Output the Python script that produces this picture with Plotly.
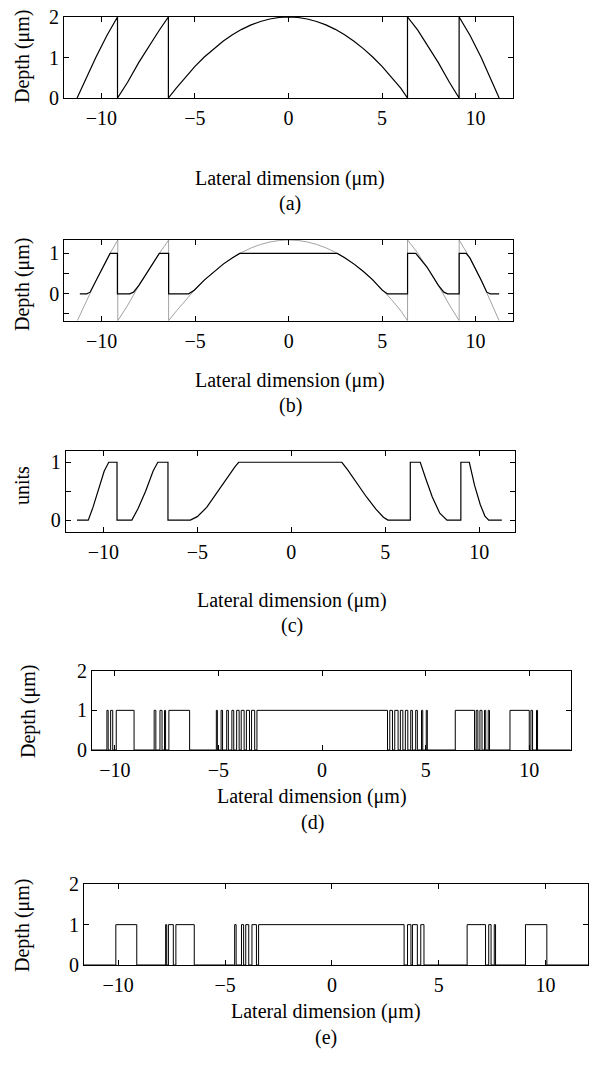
import plotly.graph_objects as go

W, H = 595, 1067
FONT = "Liberation Serif"

# ---------------- data ----------------
# (a) diffractive lens depth profile (um)
a_x = [-11.3, -10.8, -10.3, -9.7, -9.14,
       -9.14, -8.6, -8.0, -7.4, -6.9, -6.42,
       -6.42, -6.0, -5.5, -5.0, -4.5, -4.0, -3.5, -3.0, -2.5, -2.0, -1.5, -1.0, -0.5, 0.0,
       0.5, 1.0, 1.5, 2.0, 2.5, 3.0, 3.5, 4.0, 4.5, 5.0, 5.5, 6.0, 6.36,
       6.36, 6.9, 7.4, 8.0, 8.6, 9.12,
       9.12, 9.7, 10.3, 10.8, 11.26]
a_y = [0.0, 0.5, 1.0, 1.55, 2.0,
       0.0, 0.39, 0.88, 1.33, 1.68, 2.0,
       0.0, 0.243, 0.524, 0.78, 1.012, 1.219, 1.402, 1.561, 1.695, 1.805, 1.89, 1.951, 1.988, 2.0,
       1.988, 1.951, 1.89, 1.805, 1.695, 1.561, 1.402, 1.219, 1.012, 0.78, 0.524, 0.243, 0.0,
       2.0, 1.68, 1.33, 0.88, 0.39, 0.0,
       2.0, 1.55, 1.0, 0.5, 0.0]

# (b) shifted profile (grey) and clipped profile (black)
b_grey_x = a_x
b_grey_y = [-0.667, -0.167, 0.333, 0.883, 1.333,
            -0.667, -0.277, 0.213, 0.663, 1.013, 1.333,
            -0.667, -0.424, -0.143, 0.113, 0.345, 0.552, 0.735, 0.894, 1.028, 1.138, 1.223, 1.284, 1.321, 1.333,
            1.321, 1.284, 1.223, 1.138, 1.028, 0.894, 0.735, 0.552, 0.345, 0.113, -0.143, -0.424, -0.667,
            1.333, 1.013, 0.663, 0.213, -0.277, -0.667,
            1.333, 0.883, 0.333, -0.167, -0.667]
b_x = [-11.17, -10.8, -10.62, -10.3, -9.7, -9.55, -9.16, -9.16,
       -8.5, -8.3, -8.0, -7.4, -6.92, -6.42, -6.42,
       -5.35, -5.05, -4.5, -4.0, -3.5, -3.0, -2.62, 2.6, 3.0, 3.5, 4.0, 4.5, 5.0, 5.28, 6.36, 6.36,
       6.8, 7.4, 8.0, 8.3, 8.5, 9.12, 9.12,
       9.5, 9.7, 10.3, 10.6, 10.78, 11.26]
b_y = [0.0, 0.0, 0.04, 0.333, 0.883, 1.0, 1.0, 0.0,
       0.0, 0.04, 0.213, 0.663, 1.0, 1.0, 0.0,
       0.0, 0.09, 0.345, 0.552, 0.735, 0.894, 1.0, 1.0, 0.894, 0.735, 0.552, 0.345, 0.09, 0.0, 0.0, 1.0,
       1.0, 0.663, 0.213, 0.04, 0.0, 0.0, 1.0,
       1.0, 0.883, 0.333, 0.04, 0.0, 0.0]

# (c) smoothed profile (units)
c_x = [-11.4, -10.8, -10.55, -10.25, -9.95, -9.71, -9.27, -9.27,
       -8.48, -8.15, -7.75, -7.35, -7.1, -6.56, -6.56,
       -5.37, -5.0, -4.5, -4.0, -3.5, -3.0, -2.8, 2.69, 3.0, 3.5, 4.0, 4.5, 4.9, 5.14, 6.33, 6.33,
       6.86, 7.15, 7.5, 7.9, 8.28, 9.02, 9.02,
       9.47, 9.75, 10.05, 10.3, 10.5, 11.2]
c_y = [0.0, 0.0, 0.22, 0.55, 0.85, 1.0, 1.0, 0.0,
       0.0, 0.2, 0.5, 0.85, 1.0, 1.0, 0.0,
       0.0, 0.06, 0.22, 0.46, 0.7, 0.92, 1.0, 1.0, 0.87, 0.63, 0.4, 0.19, 0.05, 0.0, 0.0, 1.0,
       1.0, 0.72, 0.4, 0.12, 0.0, 0.0, 1.0,
       1.0, 0.6, 0.27, 0.07, 0.0, 0.0]

# (d) binary profile: pulse start / end positions (um), depth 1
d_start = [-10.38, -10.2, -9.93, -8.1, -7.82, -7.6, -7.39,
           -5.1, -4.87, -4.6, -4.35, -4.12, -3.9, -3.65, -3.4, -3.14,
           3.27, 3.51, 3.78, 4.02, 4.28, 4.52, 4.8, 5.03,
           6.43, 7.44, 7.62, 7.84, 8.02, 9.07, 10.08, 10.35]
d_end = [-10.32, -10.1, -9.07, -8.02, -7.72, -7.55, -6.39,
         -5.05, -4.8, -4.52, -4.26, -4.0, -3.76, -3.5, -3.25, 3.16,
         3.4, 3.67, 3.9, 4.14, 4.36, 4.6, 4.86, 5.08,
         7.36, 7.52, 7.72, 7.9, 8.08, 10.0, 10.16, 10.4]
d_limits = [-11.1, 12.0]

# (e) binary profile, second design
e_start = [-10.11, -7.78, -7.65, -7.3,
           -4.55, -4.23, -4.03, -3.74, -3.43,
           3.54, 3.77, 4.16, 6.33, 7.34, 7.6, 9.06]
e_end = [-9.13, -7.73, -7.42, -6.44,
         -4.48, -4.13, -3.89, -3.53, 3.38,
         3.7, 4.0, 4.31, 7.19, 7.45, 7.66, 10.06]
e_limits = [-11.6, 12.0]

x_ticks = [-10, -5, 0, 5, 10]
x_title = "Lateral dimension (\u03bcm)"
depth_title = "Depth (\u03bcm)"
panel_labels = ["(a)", "(b)", "(c)", "(d)", "(e)"]


def pulses_to_line(starts, ends, limits):
    xs, ys = [limits[0]], [0]
    for s, e in zip(starts, ends):
        xs += [s, s, e, e]
        ys += [0, 1, 1, 0]
    xs.append(limits[1])
    ys.append(0)
    return xs, ys


d_x, d_y = pulses_to_line(d_start, d_end, d_limits)
e_x, e_y = pulses_to_line(e_start, e_end, e_limits)

# ---------------- figure ----------------
fig = go.Figure()
line_k = dict(color="black", width=1.2)
fig.add_trace(go.Scatter(x=a_x, y=a_y, mode="lines", line=line_k, xaxis="x", yaxis="y"))
fig.add_trace(go.Scatter(x=b_grey_x, y=b_grey_y, mode="lines", line=dict(color="#8a8a8a", width=0.8),
                         xaxis="x2", yaxis="y2"))
fig.add_trace(go.Scatter(x=b_x, y=b_y, mode="lines", line=line_k, xaxis="x2", yaxis="y2"))
fig.add_trace(go.Scatter(x=c_x, y=c_y, mode="lines", line=line_k, xaxis="x3", yaxis="y3"))
fig.add_trace(go.Scatter(x=d_x, y=d_y, mode="lines", line=dict(color="black", width=1.0), xaxis="x4", yaxis="y4"))
fig.add_trace(go.Scatter(x=e_x, y=e_y, mode="lines", line=dict(color="black", width=1.0), xaxis="x5", yaxis="y5"))


def xd(l, r):
    return [l / W, r / W]


def yd(t, b):
    return [1 - b / H, 1 - t / H]


# pixel boxes: (left, right, top, bottom)
boxes = [(64, 513, 17, 98), (64.3, 513, 240, 320.7), (65.7, 515, 450.7, 531.7),
         (92, 570.7, 670.7, 750), (84, 588.3, 884.3, 965)]
x_ranges = [[-12, 12], [-12, 12], [-12, 11.9], d_limits, e_limits]
y_ranges = [[0, 2], [-0.667, 1.333], [-0.2, 1.2], [0, 2], [0, 2]]
y_tickvals = [[0, 1, 2], [-0.5, 0, 0.5, 1], [0, 0.5, 1], [0, 1, 2], [0, 1, 2]]
y_ticktext = [["0", "1", "2"], ["", "0", "", "1"], ["0", "", "1"], ["0", "1", "2"], ["0", "1", "2"]]

common = dict(showline=True, linecolor="black", linewidth=1, mirror="ticks", ticks="inside",
              ticklen=5, tickcolor="black", tickwidth=1, showgrid=False, zeroline=False,
              automargin=False, tickfont=dict(family=FONT, size=20, color="black"))

layout = dict(width=W, height=H, margin=dict(l=0, r=0, t=0, b=0, pad=0, autoexpand=False),
              showlegend=False, plot_bgcolor="white", paper_bgcolor="white")
for i, (l, r, t, b) in enumerate(boxes):
    n = "" if i == 0 else str(i + 1)
    layout["xaxis" + n] = dict(domain=xd(l, r), range=x_ranges[i], anchor="y" + n,
                               tickvals=x_ticks, ticklabelstandoff=2, **common)
    layout["yaxis" + n] = dict(domain=yd(t, b), range=y_ranges[i], anchor="x" + n,
                               tickvals=y_tickvals[i], ticktext=y_ticktext[i],
                               ticklabelstandoff=0, **common)
fig.update_layout(**layout)

# titles
ann = []
xt_pos = [(290, 178), (290, 380), (292, 600), (312, 796), (326, 1011)]
lbl_pos = [(290, 203), (290, 405), (292, 625), (312, 822), (326, 1037)]
yt_pos = [(22, 57), (22, 285), (22, 486), (28, 712), (22, 926)]
y_titles = [depth_title, depth_title, "units", depth_title, depth_title]
for i in range(5):
    base = dict(xref="paper", yref="paper", showarrow=False, xanchor="center", yanchor="middle",
                font=dict(family=FONT, size=20, color="black"))
    ann.append(dict(x=xt_pos[i][0] / W, y=1 - xt_pos[i][1] / H, text=x_title, **base))
    ann.append(dict(x=lbl_pos[i][0] / W, y=1 - lbl_pos[i][1] / H, text=panel_labels[i], **base))
    ann.append(dict(x=yt_pos[i][0] / W, y=1 - yt_pos[i][1] / H, text=y_titles[i], textangle=-90, **base))
fig.update_layout(annotations=ann)

fig.write_html("out.html", config={"displayModeBar": False},
               post_script="document.body.style.margin='0px';")
